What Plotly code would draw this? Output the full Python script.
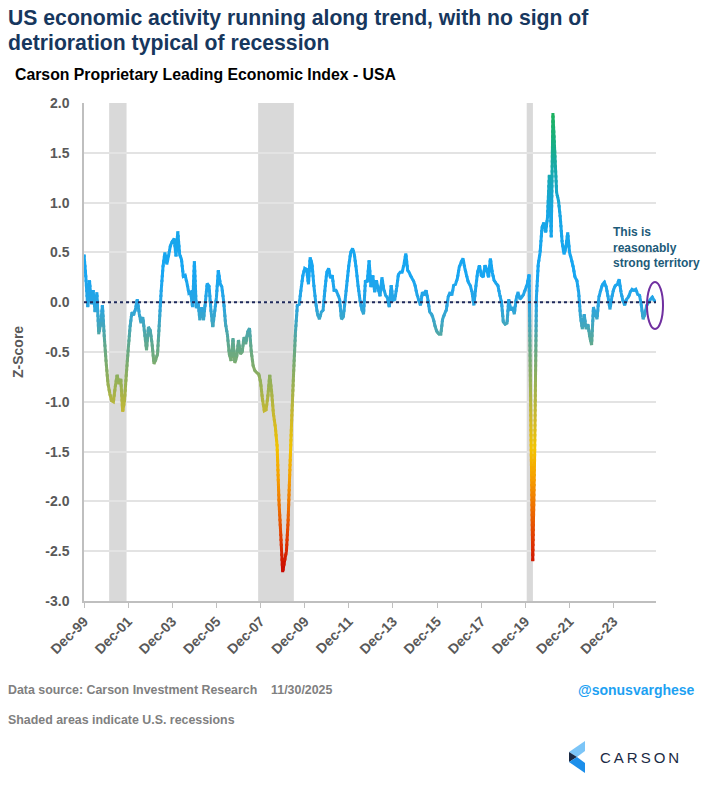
import plotly.graph_objects as go
import pandas as pd
import numpy as np

# ---------------- data ----------------
start_month = "1999-12-01"
z_scores = [
    0.48, 0.25, -0.05, 0.22, -0.02, 0.12, -0.10, 0.10, -0.32, -0.22, -0.03, -0.35,
    -0.60, -0.82, -0.92, -0.99, -1.00, -0.85, -0.73, -0.82, -0.77, -1.10, -0.99, -0.72,
    -0.48, -0.25, -0.10, -0.13, -0.07, 0.03, -0.11, -0.21, -0.15, -0.32, -0.48, -0.25,
    -0.28, -0.42, -0.62, -0.58, -0.52, -0.21, 0.12, 0.36, 0.50, 0.38, 0.47, 0.57,
    0.61, 0.64, 0.46, 0.71, 0.48, 0.43, 0.26, 0.27, 0.19, 0.09, 0.10, -0.05,
    0.41, -0.06, 0.00, -0.18, -0.05, -0.18, 0.00, 0.19, 0.16, -0.08, -0.25, -0.10,
    0.05, 0.32, 0.19, 0.15, 0.00, -0.22, -0.33, -0.52, -0.59, -0.36, -0.61, -0.55,
    -0.38, -0.52, -0.50, -0.35, -0.42, -0.30, -0.26, -0.50, -0.64, -0.69, -0.71, -0.72,
    -0.80, -0.97, -1.09, -1.08, -0.94, -0.73, -0.90, -1.12, -1.25, -1.45, -2.00, -2.35,
    -2.71, -2.60, -2.50, -2.20, -1.65, -1.15, -0.70, -0.30, -0.03, -0.02, 0.13, 0.27,
    0.34, 0.33, 0.18, 0.45, 0.38, 0.17, 0.00, -0.12, -0.17, -0.10, -0.08, 0.13,
    0.30, 0.34, 0.24, 0.27, 0.12, 0.12, 0.08, 0.03, -0.17, -0.15, 0.02, 0.20,
    0.37, 0.50, 0.54, 0.48, 0.34, 0.17, 0.03, -0.07, -0.12, 0.22, 0.20, 0.42,
    0.15, 0.27, 0.10, 0.22, 0.13, 0.06, 0.25, 0.13, 0.07, 0.04, -0.05, 0.17,
    0.02, 0.03, 0.15, 0.28, 0.30, 0.30, 0.38, 0.49, 0.32, 0.29, 0.25, 0.22,
    0.17, 0.08, 0.02, -0.03, 0.10, 0.07, 0.12, 0.03, -0.10, -0.12, -0.17, -0.25,
    -0.30, -0.32, -0.32, -0.17, -0.12, -0.08, 0.05, 0.10, 0.07, 0.17, 0.18, 0.24,
    0.35, 0.40, 0.44, 0.35, 0.27, 0.20, 0.17, 0.10, -0.03, 0.15, 0.30, 0.37,
    0.27, 0.25, 0.37, 0.33, 0.25, 0.44, 0.30, 0.22, 0.19, 0.17, 0.08, 0.00,
    -0.20, -0.22, -0.21, 0.03, -0.08, -0.05, -0.12, 0.03, 0.10, 0.03, 0.05, 0.08,
    0.13, 0.18, 0.28, -1.20, -2.60, -1.60, 0.05, 0.38, 0.50, 0.75, 0.80, 0.70,
    0.85, 1.28, 0.65, 1.90, 1.50, 1.10, 1.02, 0.85, 0.60, 0.48, 0.55, 0.70,
    0.50, 0.43, 0.35, 0.25, 0.22, 0.10, -0.15, -0.27, -0.12, -0.27, -0.22, -0.35,
    -0.43, -0.05, -0.12, -0.17, 0.05, 0.12, 0.18, 0.20, 0.15, 0.05, -0.07, 0.05,
    0.13, 0.17, 0.18, 0.23, 0.10, 0.02, -0.03, 0.03, 0.05, 0.10, 0.13, 0.12,
    0.13, 0.08, 0.07, -0.02, -0.17, -0.12, -0.03, 0.00, 0.03, 0.05, 0.02, 0.00,
]
recession_starts = ["2001-03-01", "2007-12-01", "2020-02-01"]
recession_ends = ["2001-11-01", "2009-06-01", "2020-04-01"]
y_tick_values = [2.0, 1.5, 1.0, 0.5, 0.0, -0.5, -1.0, -1.5, -2.0, -2.5, -3.0]
y_tick_labels = ["2.0", "1.5", "1.0", "0.5", "0.0", "-0.5", "-1.0", "-1.5", "-2.0", "-2.5", "-3.0"]

dates = pd.date_range(start_month, periods=len(z_scores), freq="MS")

# ---------------- geometry helpers ----------------
W, H = 712, 787
ML, MR, MT, MB = 84, 56, 103, 186
PW, PH = W - ML - MR, H - MT - MB
YMIN, YMAX = -3.0, 2.0


def px(xp):
    return (xp - ML) / PW


def py(yp):
    return (H - MB - yp) / PH


# ---------------- colour gradient (by vertical position) ----------------
stops = [
    (-2.75, "#c40000"), (-2.4, "#df3300"), (-2.05, "#ee7000"), (-1.75, "#f6a000"),
    (-1.45, "#f2c300"), (-1.15, "#cdb92c"), (-0.9, "#a6b349"), (-0.65, "#82ad68"),
    (-0.4, "#5da891"), (-0.2, "#3fa6c2"), (0.0, "#27a5e4"), (0.3, "#17a6f3"),
    (0.9, "#17a6e6"), (1.3, "#17a9b2"), (1.6, "#19ae84"), (1.95, "#1db35a"),
]
sv = np.array([s[0] for s in stops])
srgb = np.array([[int(h[i:i + 2], 16) for i in (1, 3, 5)] for _, h in stops], dtype=float)


def col(v):
    rgb = [np.interp(v, sv, srgb[:, k]) for k in range(3)]
    return "rgb(%d,%d,%d)" % tuple(int(round(c)) for c in rgb)


fig = go.Figure()
# hidden trace keeps the main (x, y) subplot that carries grid and tick labels
fig.add_trace(go.Scatter(x=dates, y=z_scores, mode="none", hoverinfo="skip", showlegend=False))

# The series is drawn once per horizontal colour band; each band is its own
# y-axis (same scale as the main axis) so the line is clipped to that band,
# giving a vertical colour gradient like the original.
band_step = 0.05
band_offset = 0.0137          # keeps band edges away from the data values
eps = 0.012                   # small overlap between neighbouring bands
edges = [YMIN] + [YMIN + band_offset + k * band_step
                  for k in range(int((YMAX - YMIN) / band_step) + 1)
                  if YMIN + band_offset + k * band_step < YMAX] + [YMAX]
extra_axes = {}
for j in range(len(edges) - 1):
    v0, v1 = edges[j], edges[j + 1]
    d0 = max(0.0, (v0 - eps - YMIN) / (YMAX - YMIN))
    d1 = min(1.0, (v1 + eps - YMIN) / (YMAX - YMIN))
    r0 = YMIN + d0 * (YMAX - YMIN)
    r1 = YMIN + d1 * (YMAX - YMIN)
    ax_id = j + 2
    extra_axes["yaxis%d" % ax_id] = dict(domain=[d0, d1], range=[r0, r1], anchor="x",
                                         visible=False, fixedrange=True, showgrid=False)
    fig.add_trace(go.Scatter(
        x=dates, y=z_scores, yaxis="y%d" % ax_id, mode="lines",
        line=dict(color=col(0.5 * (v0 + v1)), width=3, simplify=False),
        hoverinfo="skip", showlegend=False,
    ))

shapes = []
for s, e in zip(recession_starts, recession_ends):
    x0 = pd.Timestamp(s) - pd.Timedelta(days=40)
    x1 = pd.Timestamp(e) + pd.Timedelta(days=3)
    shapes.append(dict(type="rect", xref="x", yref="y", x0=x0, x1=x1, y0=YMIN, y1=YMAX,
                       fillcolor="#d9d9d9", line=dict(width=0), layer="below"))
shapes.append(dict(type="line", xref="x", yref="y", x0=dates[0], x1=dates[-1], y0=0, y1=0,
                   line=dict(color="#1f2a5c", width=2, dash="dot"), layer="above"))
# purple ellipse around latest reading
shapes.append(dict(type="circle", xref="paper", yref="paper",
                   x0=px(647), x1=px(663), y0=py(329), y1=py(282),
                   line=dict(color="#7030a0", width=2)))


# Carson logo icon
def path(points):
    return "M " + " L ".join("%f,%f" % (px(a), py(b)) for a, b in points) + " Z"


shapes.append(dict(type="path", xref="paper", yref="paper",
                   path=path([(569, 752), (585, 741), (585, 751), (577, 757)]),
                   fillcolor="#7cc5f7", line=dict(width=0)))
shapes.append(dict(type="path", xref="paper", yref="paper",
                   path=path([(569, 752), (577, 757), (569, 762)]),
                   fillcolor="#1b2a44", line=dict(width=0)))
shapes.append(dict(type="path", xref="paper", yref="paper",
                   path=path([(569, 762), (577, 757), (585, 763), (585, 773)]),
                   fillcolor="#1d8fea", line=dict(width=0)))

FONT = "Liberation Sans, Arial, sans-serif"
GRAY = "#595959"

annotations = [
    dict(text="US economic activity running along trend, with no sign of", x=px(6), y=py(18),
         xanchor="left", yanchor="middle", font=dict(family=FONT, size=21.2, color="#17375e", weight="bold")),
    dict(text="detrioration typical of recession", x=px(6), y=py(43),
         xanchor="left", yanchor="middle", font=dict(family=FONT, size=21.2, color="#17375e", weight="bold")),
    dict(text="Carson Proprietary Leading Economic Index - USA", x=px(13), y=py(75),
         xanchor="left", yanchor="middle", font=dict(family=FONT, size=15.8, color="#000000", weight="bold")),
    dict(text="Z-Score", x=px(18), y=py(352), textangle=-90,
         xanchor="center", yanchor="middle", font=dict(family=FONT, size=14, color=GRAY, weight="bold")),
    dict(text="This is<br>reasonably<br>strong territory", x=px(611), y=py(247.5), align="left",
         xanchor="left", yanchor="middle", font=dict(family=FONT, size=12, color="#1d5b79", weight="bold")),
    dict(text="Data source: Carson Investment Research    11/30/2025", x=px(6), y=py(690),
         xanchor="left", yanchor="middle", font=dict(family=FONT, size=12.4, color="#808080", weight="bold")),
    dict(text="Shaded areas indicate U.S. recessions", x=px(6), y=py(720),
         xanchor="left", yanchor="middle", font=dict(family=FONT, size=12.4, color="#808080", weight="bold")),
    dict(text="@sonusvarghese", x=px(697), y=py(690),
         xanchor="right", yanchor="middle", font=dict(family=FONT, size=14, color="#1da1f2", weight="bold")),
    dict(text="C\u2009A\u2009R\u2009S\u2009O\u2009N", x=px(598), y=py(757),
         xanchor="left", yanchor="middle", font=dict(family=FONT, size=15, color="#1b2a44")),
]
for a in annotations:
    a.update(xref="paper", yref="paper", showarrow=False)

fig.update_layout(
    width=W, height=H,
    margin=dict(l=ML, r=MR, t=MT, b=MB, pad=0),
    paper_bgcolor="white", plot_bgcolor="rgba(0,0,0,0)",
    shapes=shapes, annotations=annotations,
    showlegend=False,
    xaxis=dict(
        type="date", range=[dates[0], dates[-1]], anchor="y",
        tick0=start_month, dtick="M24", tickformat="%b-%y", tickangle=-45,
        ticks="outside", ticklen=5, tickwidth=1, tickcolor="#bfbfbf",
        showline=True, linecolor="#bfbfbf", linewidth=1.5, showgrid=False, zeroline=False,
        tickfont=dict(family=FONT, size=14, color=GRAY, weight="bold"),
    ),
    yaxis=dict(
        range=[YMIN, YMAX], tickvals=y_tick_values, ticktext=y_tick_labels, anchor="x",
        showgrid=True, gridcolor="#e3e3e3", gridwidth=1.5,
        showline=True, linecolor="#bfbfbf", linewidth=1.5, zeroline=False,
        ticks="", ticklabelstandoff=10,
        tickfont=dict(family=FONT, size=14, color=GRAY, weight="bold"),
    ),
    **extra_axes,
)

fig.write_html("out.html")
